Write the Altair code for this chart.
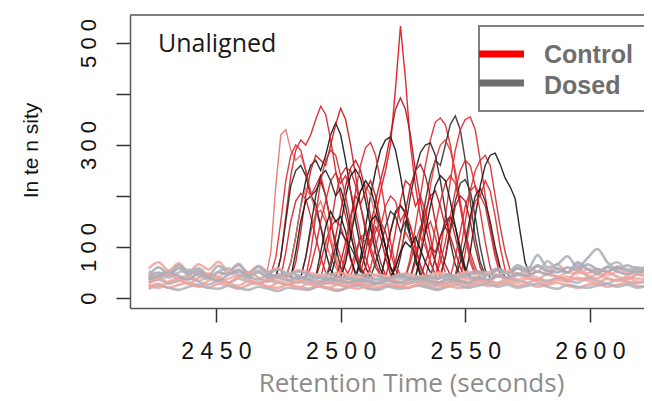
import altair as alt
import pandas as pd

# ---------------- data ----------------
# Baseline (noise) traces: intensity sampled every 4 s starting at 2423 s
base_start = 2423
base_step = 4
base_pink_1 = [58, 70, 54, 68, 52, 66, 56, 71, 53, 64,
               50, 63, 52, 58, 47, 55, 50, 46, 44, 50,
               46, 42, 48, 44, 40, 46, 48, 42, 44, 50,
               46, 42, 48, 52, 46, 56, 50, 58, 49, 62,
               52, 66, 50, 60, 48, 57, 52, 62, 49, 58, 52]
base_gray_1 = [44, 60, 47, 64, 50, 58, 45, 63, 51, 67,
               48, 61, 50, 56, 44, 52, 46, 40, 48, 42,
               38, 46, 40, 44, 38, 42, 46, 40, 44, 38,
               46, 42, 48, 52, 50, 58, 50, 64, 56, 84,
               60, 66, 82, 60, 78, 96, 70, 56, 64, 58, 60]
base_pink_2 = [35, 42, 30, 38, 44, 34, 40, 32, 38, 45,
               36, 30, 38, 34, 28, 36, 32, 26, 34, 30,
               28, 32, 26, 30, 34, 28, 32, 36, 30, 26,
               34, 30, 36, 40, 34, 42, 38, 36, 44, 40,
               34, 38, 42, 36, 40, 46, 38, 34, 42, 38, 36]
base_gray_2 = [30, 36, 28, 34, 40, 32, 26, 34, 30, 38,
               32, 28, 34, 30, 26, 32, 28, 24, 30, 26,
               22, 28, 24, 30, 26, 22, 28, 32, 26, 24,
               30, 34, 28, 36, 32, 30, 38, 34, 30, 36,
               32, 40, 34, 30, 38, 34, 28, 36, 32, 30, 34]
base_pink_3 = [22, 28, 20, 26, 30, 24, 20, 28, 24, 18,
               26, 30, 22, 20, 26, 22, 18, 24, 20, 16,
               22, 26, 20, 18, 24, 22, 20, 26, 22, 18,
               24, 20, 22, 28, 24, 26, 30, 24, 28, 22,
               26, 30, 24, 20, 26, 28, 22, 26, 30, 24, 22]
base_gray_3 = [18, 24, 20, 16, 22, 26, 20, 18, 24, 20,
               16, 22, 18, 14, 20, 18, 16, 22, 18, 14,
               20, 24, 18, 16, 22, 18, 20, 24, 20, 16,
               22, 26, 20, 24, 28, 22, 26, 20, 24, 28,
               22, 18, 26, 22, 20, 24, 28, 22, 26, 20, 24]
base_pink_4 = [48, 40, 52, 44, 38, 50, 46, 42, 54, 40,
               46, 52, 44, 40, 48, 44, 38, 46, 42, 36,
               44, 40, 38, 46, 42, 36, 44, 40, 42, 48,
               40, 46, 52, 44, 50, 46, 54, 48, 44, 52,
               46, 42, 50, 48, 56, 50, 44, 52, 48, 46, 50]
base_gray_4 = [40, 50, 44, 58, 46, 54, 42, 50, 46, 56,
               44, 50, 40, 46, 42, 38, 44, 40, 36, 42,
               38, 34, 40, 36, 38, 44, 40, 36, 42, 38,
               44, 40, 46, 50, 44, 54, 48, 58, 52, 64,
               54, 50, 60, 54, 66, 56, 52, 60, 54, 50, 56]
base_pink_5 = [30, 38, 46, 36, 28, 40, 48, 38, 30, 42,
               50, 40, 32, 44, 36, 30, 38, 34, 28, 36,
               32, 28, 34, 30, 36, 32, 28, 34, 38, 32,
               28, 36, 40, 34, 30, 44, 38, 46, 40, 36,
               48, 42, 36, 52, 44, 38, 50, 42, 36, 46, 40]
base_gray_5 = [52, 46, 40, 50, 56, 44, 38, 52, 58, 46,
               40, 54, 48, 42, 50, 44, 36, 42, 38, 34,
               40, 36, 32, 38, 34, 40, 36, 32, 38, 42,
               36, 40, 44, 38, 46, 42, 50, 44, 60, 52,
               72, 56, 50, 66, 58, 52, 62, 70, 56, 60, 54]
base_pink_6 = [26, 20, 32, 38, 28, 22, 34, 40, 30, 24,
               34, 28, 22, 30, 26, 20, 28, 24, 20, 26,
               22, 18, 26, 22, 28, 24, 20, 28, 32, 26,
               22, 30, 26, 32, 36, 28, 34, 30, 38, 32,
               28, 36, 32, 40, 34, 30, 38, 34, 40, 32, 30]
base_gray_6 = [36, 44, 52, 42, 36, 48, 40, 34, 46, 52,
               42, 36, 46, 40, 34, 42, 36, 30, 38, 34,
               30, 36, 32, 28, 34, 30, 36, 40, 34, 30,
               38, 34, 30, 40, 36, 44, 40, 48, 44, 52,
               46, 58, 50, 70, 56, 48, 60, 52, 46, 54, 50]

base_names = ["bp1", "bg1", "bp2", "bg2", "bp3", "bg3", "bp4", "bg4",
              "bp5", "bg5", "bp6", "bg6"]
base_values = [base_pink_1, base_gray_1, base_pink_2, base_gray_2,
               base_pink_3, base_gray_3, base_pink_4, base_gray_4,
               base_pink_5, base_gray_5, base_pink_6, base_gray_6]

# Peak traces: (start time, intensities every 2 s)
peak_step = 2
control_starts = [2470, 2474, 2480, 2472, 2508, 2508, 2526, 2538, 2546, 2492,
                  2530, 2520, 2500, 2476, 2516, 2534, 2490, 2494, 2500, 2548,
                  2526, 2504, 2484, 2540, 2478, 2486, 2498, 2510, 2518, 2528,
                  2538, 2544, 2486, 2502, 2520, 2532]
control_values = [
    [40, 90, 220, 320, 330, 290, 270, 280, 250, 210, 170, 140, 110, 80, 60, 45],
    [40, 80, 160, 240, 290, 310, 300, 320, 350, 376, 360, 310, 250, 200, 160, 120, 90, 60, 45],
    [40, 70, 130, 200, 250, 280, 270, 260, 300, 340, 372, 350, 300, 240, 180, 130, 90, 60, 45],
    [45, 80, 150, 230, 280, 300, 290, 250, 200, 220, 240, 200, 150, 110, 80, 55, 40],
    [40, 60, 110, 160, 210, 250, 300, 410, 533, 430, 300, 220, 160, 110, 70, 45],
    [50, 90, 140, 190, 230, 270, 320, 370, 392, 370, 320, 250, 190, 140, 100, 70, 45],
    [40, 80, 140, 200, 260, 310, 345, 353, 340, 300, 240, 180, 130, 90, 60, 40],
    [40, 90, 160, 230, 290, 330, 350, 355, 330, 270, 200, 140, 90, 55, 40],
    [45, 90, 150, 210, 250, 270, 280, 260, 200, 140, 90, 55, 40],
    [40, 80, 140, 200, 240, 255, 250, 220, 180, 140, 100, 70, 45],
    [40, 90, 150, 220, 270, 300, 310, 290, 250, 190, 130, 80, 50],
    [40, 70, 120, 170, 220, 250, 262, 240, 200, 150, 100, 65, 45],
    [40, 80, 130, 180, 210, 222, 200, 160, 120, 80, 50],
    [40, 90, 150, 190, 205, 195, 160, 120, 80, 50],
    [40, 80, 130, 165, 180, 170, 140, 100, 65, 40],
    [40, 80, 140, 190, 225, 240, 225, 180, 120, 70, 45],
    [40, 70, 110, 140, 152, 140, 110, 75, 50],
    [40, 70, 120, 170, 220, 255, 270, 250, 210, 160, 110, 70, 45],
    [45, 90, 150, 210, 260, 295, 305, 280, 230, 170, 110, 65, 45],
    [40, 90, 150, 190, 200, 180, 130, 80, 45],
    [40, 70, 110, 140, 130, 150, 120, 80, 50],
    [40, 80, 120, 125, 110, 140, 120, 80, 45],
    [40, 80, 130, 165, 172, 150, 110, 70, 45],
    [45, 80, 130, 180, 200, 190, 150, 100, 60, 40],
    [40, 70, 120, 180, 215, 200, 170, 190, 160, 120, 80, 50],
    [40, 60, 100, 150, 190, 230, 245, 225, 240, 210, 170, 120, 80, 50],
    [40, 70, 110, 160, 200, 185, 210, 230, 200, 150, 100, 60, 40],
    [40, 60, 100, 140, 180, 200, 190, 150, 170, 140, 100, 60, 40],
    [40, 80, 130, 190, 230, 220, 180, 200, 170, 120, 70, 40],
    [40, 70, 120, 170, 200, 210, 180, 140, 160, 120, 80, 50],
    [40, 70, 110, 160, 210, 250, 270, 260, 220, 170, 110, 60, 40],
    [40, 80, 130, 180, 210, 220, 200, 230, 210, 160, 100, 55, 40],
    [40, 90, 160, 230, 270, 290, 280, 240, 200, 150, 100, 60, 40],
    [40, 60, 90, 120, 110, 100, 130, 150, 130, 90, 55, 40],
    [40, 60, 90, 130, 110, 90, 120, 100, 70, 45],
    [40, 70, 100, 90, 120, 140, 120, 90, 60, 40],
]
dosed_starts = [2478, 2474, 2506, 2528, 2550, 2522, 2496, 2540, 2480, 2516,
                2506, 2536, 2490, 2484, 2500, 2512, 2530, 2546, 2520, 2494]
dosed_values = [
    [40, 70, 120, 180, 230, 260, 270, 250, 280, 320, 343, 320, 270, 210, 150, 100, 60, 40],
    [40, 80, 150, 220, 250, 260, 240, 200, 210, 230, 200, 150, 100, 60, 40],
    [40, 80, 140, 200, 250, 290, 310, 316, 290, 240, 180, 120, 75, 45],
    [40, 80, 130, 190, 240, 270, 260, 300, 340, 357, 330, 270, 190, 120, 70, 45],
    [45, 90, 160, 220, 260, 280, 284, 262, 235, 218, 195, 130, 70, 45],
    [40, 80, 140, 200, 250, 285, 300, 304, 280, 230, 170, 110, 65, 45],
    [40, 80, 140, 200, 240, 252, 235, 190, 140, 90, 55, 40],
    [40, 80, 140, 190, 225, 232, 210, 160, 100, 55, 40],
    [40, 90, 150, 190, 200, 185, 140, 90, 55, 40],
    [40, 80, 130, 170, 182, 165, 120, 75, 45],
    [40, 70, 110, 150, 162, 140, 100, 60, 40],
    [40, 80, 120, 150, 160, 140, 100, 60, 40],
    [40, 90, 140, 170, 150, 160, 130, 80, 45],
    [40, 80, 140, 200, 240, 250, 230, 200, 215, 180, 130, 80, 50],
    [40, 70, 120, 170, 210, 230, 215, 180, 140, 100, 60, 40],
    [40, 70, 100, 140, 170, 160, 130, 150, 120, 80, 50],
    [40, 80, 130, 180, 220, 240, 230, 190, 140, 90, 55, 40],
    [40, 70, 110, 160, 200, 215, 190, 150, 100, 60, 40],
    [40, 60, 90, 110, 100, 120, 95, 70, 50],
    [40, 60, 100, 130, 115, 100, 80, 55, 40],
]

x_ticks = [2450, 2500, 2550, 2600]
y_ticks = [0, 100, 200, 300, 400, 500]
legend_labels = ["Control", "Dosed"]

# ---------------- styles ----------------
base_colors = ["#eda49c", "#a9abb6", "#f0aaa2", "#b1b2bb",
               "#ee9f97", "#aeb0ba", "#f2b0a8", "#a6a8b3",
               "#eba098", "#b3b4bd", "#f0a59d", "#a8aab5"]
red_palette = ["#e8706a", "#d41f26", "#c4161c", "#e0262c", "#e3101a", "#b3121a",
               "#d9282e", "#e0242a", "#cf2a2f", "#c8262b", "#e23a3a", "#a81418"]
black_palette = ["#151515", "#2a2020", "#101010", "#333030"]

# ---------------- build tables ----------------
rows = []
for name, vals in zip(base_names, base_values):
    for i, v in enumerate(vals):
        rows.append({"trace": name, "t": base_start + base_step * i, "v": v})
base_df = pd.DataFrame(rows)

items = []
for k, (s, vals) in enumerate(zip(control_starts, control_values)):
    items.append((f"c{k:02d}", s, vals, red_palette[k % len(red_palette)]))
for k, (s, vals) in enumerate(zip(dosed_starts, dosed_values)):
    items.append((f"d{k:02d}", s, vals, black_palette[k % len(black_palette)]))
ci = [it for it in items if it[0].startswith("c")]
di = [it for it in items if it[0].startswith("d")]
order = []
while ci or di:
    if ci:
        order.append(ci.pop(0))
    if di:
        order.append(di.pop(0))
    if ci:
        order.append(ci.pop(0))
peak_rows, peak_ids, peak_cols = [], [], []
for name, s, vals, col in order:
    peak_ids.append(name)
    peak_cols.append(col)
    for i, v in enumerate(vals):
        peak_rows.append({"trace": name, "t": s + peak_step * i, "v": v})
peak_df = pd.DataFrame(peak_rows)

# ---------------- chart ----------------
W, H = 514, 293
x_scale = alt.Scale(domain=[2415.5, 2621.7], nice=False, zero=False)
y_scale = alt.Scale(domain=[-19.6, 554.9], nice=False, zero=False)

x_axis = alt.Axis(
    values=x_ticks, format="d",
    labelExpr="join(split(datum.label, ''), ' ')",
    labelFont="Liberation Sans", labelFontSize=23, labelColor="#111111",
    labelBaseline="top", labelPadding=18, labelFlush=False, labelOverlap=False,
    tickSize=14, tickWidth=1.5, tickColor="#333333",
    domainColor="#555555", domainWidth=1.5, grid=False,
    title="Retention Time (seconds)", titleFont="Open Sans", titleFontSize=26,
    titleFontWeight="normal", titleColor="#8c8c8c",
    titleX=281, titleY=83, titleAlign="center", titleBaseline="alphabetic",
)
y_axis = alt.Axis(
    values=y_ticks, format="d",
    labelExpr="(datum.value == 200 || datum.value == 400) ? '' : join(split(datum.label, ''), ' ')",
    labelFont="Liberation Sans", labelFontSize=22, labelColor="#111111",
    labelAngle=270, labelAlign="center", labelBaseline="alphabetic",
    labelPadding=21, labelFlush=False, labelOverlap=False,
    tickSize=14, tickWidth=1.5, tickColor="#333333",
    domainColor="#555555", domainWidth=1.5, grid=False,
    title="In te n sity", titleFont="Liberation Sans", titleFontSize=21,
    titleFontWeight="normal", titleColor="#111111", titleAngle=270,
    titleX=-93, titleY=135, titleAlign="center", titleBaseline="alphabetic",
)

peaks = alt.Chart(peak_df).mark_line(strokeWidth=1.4, clip=True, interpolate="linear",
                                     opacity=0.9).encode(
    x=alt.X("t:Q", scale=x_scale, axis=x_axis),
    y=alt.Y("v:Q", scale=y_scale, axis=y_axis),
    color=alt.Color("trace:N", scale=alt.Scale(domain=peak_ids, range=peak_cols), legend=None),
)

baseline = alt.Chart(base_df).mark_line(strokeWidth=2.6, clip=True, interpolate="monotone",
                                        opacity=0.85).encode(
    x=alt.X("t:Q", scale=x_scale),
    y=alt.Y("v:Q", scale=y_scale),
    stroke=alt.Stroke("trace:N", scale=alt.Scale(domain=base_names, range=base_colors), legend=None),
)

one = pd.DataFrame({"k": [0]})
top_border = alt.Chart(one).mark_rule(color="#555555", strokeWidth=1.5).encode(
    x=alt.value(0), x2=alt.value(W), y=alt.value(0))

label_text = alt.Chart(one).mark_text(align="left", baseline="alphabetic", font="Open Sans",
                                      fontSize=25, color="#1a1a1a").encode(
    x=alt.value(28), y=alt.value(37), text=alt.value("Unaligned"))

legend_box = alt.Chart(one).mark_rect(fill="white", stroke="#808080", strokeWidth=2,
                                      clip=True).encode(
    x=alt.value(349), x2=alt.value(W + 10), y=alt.value(11), y2=alt.value(96))
legend_red = alt.Chart(one).mark_rule(color="#ff0000", strokeWidth=7, strokeCap="butt").encode(
    x=alt.value(349), x2=alt.value(394), y=alt.value(39))
legend_gray = alt.Chart(one).mark_rule(color="#6e6e6e", strokeWidth=7, strokeCap="butt").encode(
    x=alt.value(349), x2=alt.value(394), y=alt.value(68))
legend_t1 = alt.Chart(one).mark_text(align="left", baseline="alphabetic", font="Liberation Sans",
                                     fontSize=25, fontWeight="bold", color="#6e6e6e").encode(
    x=alt.value(414), y=alt.value(48), text=alt.value(legend_labels[0]))
legend_t2 = alt.Chart(one).mark_text(align="left", baseline="alphabetic", font="Liberation Sans",
                                     fontSize=25, fontWeight="bold", color="#6e6e6e").encode(
    x=alt.value(414), y=alt.value(79), text=alt.value(legend_labels[1]))

chart = alt.layer(
    peaks, baseline, top_border, label_text,
    legend_box, legend_red, legend_gray, legend_t1, legend_t2,
).resolve_scale(color="independent", stroke="independent").properties(
    width=W, height=H,
    padding={"left": 122, "top": 7, "right": 0, "bottom": 92},
    autosize=alt.AutoSizeParams(type="none"),
    background="white",
).configure_view(stroke=None)

chart.save("out.html", embed_options={"renderer": "svg", "actions": False})
